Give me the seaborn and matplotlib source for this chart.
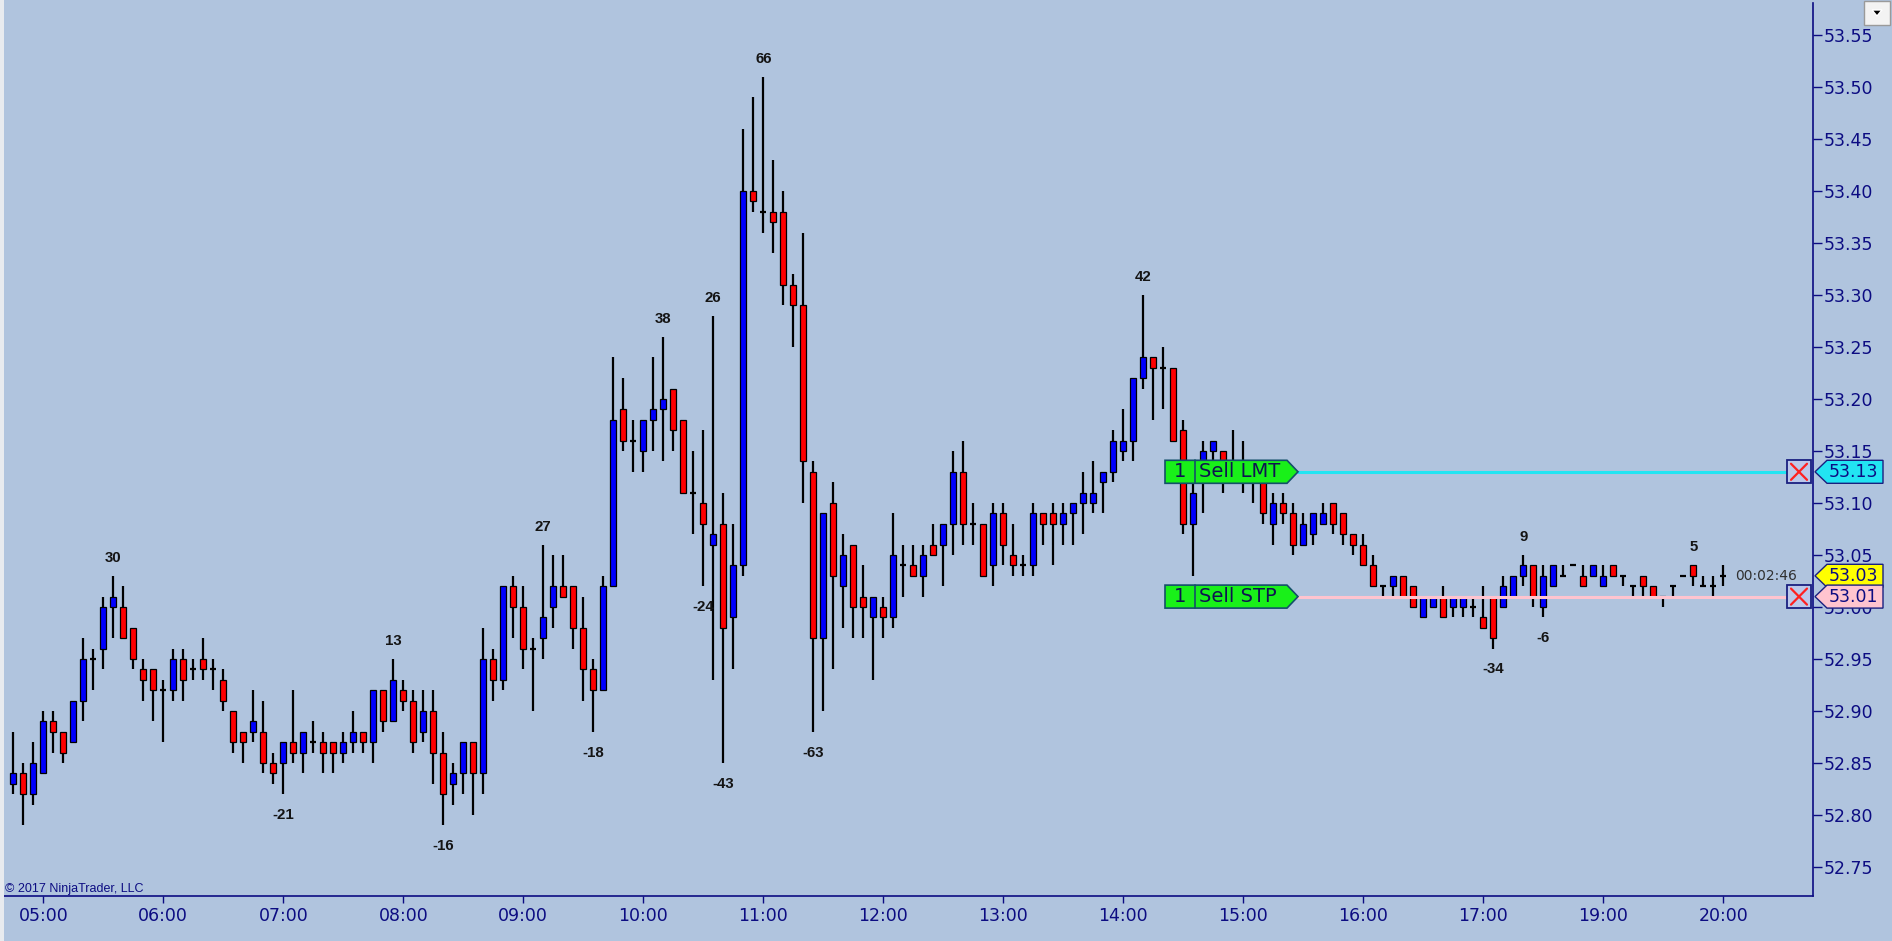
import numpy as np
import pandas as pd
import seaborn as sns
import matplotlib.pyplot as plt
import matplotlib.transforms as mtransforms
from matplotlib.patches import Polygon, Rectangle

# 5 minute bars, 04:45 - 17:00 and 18:05 - 20:00
opens = [52.83, 52.84, 52.82, 52.84, 52.89, 52.88, 52.87, 52.91, 52.95, 52.96,
         53.00, 53.00, 52.98, 52.94, 52.94, 52.92, 52.92, 52.95, 52.94, 52.95,
         52.94, 52.93, 52.90, 52.88, 52.88, 52.88, 52.85, 52.85, 52.87, 52.86,
         52.87, 52.87, 52.87, 52.86, 52.87, 52.88, 52.87, 52.92, 52.89, 52.92,
         52.91, 52.88, 52.90, 52.86, 52.83, 52.84, 52.87, 52.84, 52.95, 52.93,
         53.02, 53.00, 52.96, 52.97, 53.00, 53.02, 53.02, 52.98, 52.94, 52.92,
         53.02, 53.19, 53.16, 53.15, 53.18, 53.19, 53.21, 53.18, 53.11, 53.10,
         53.06, 53.08, 52.99, 53.04, 53.40, 53.38, 53.38, 53.38, 53.31, 53.29,
         53.13, 52.97, 53.10, 53.02, 53.06, 53.01, 52.99, 53.00, 52.99, 53.04,
         53.04, 53.03, 53.06, 53.06, 53.08, 53.13, 53.08, 53.08, 53.04, 53.09,
         53.05, 53.04, 53.04, 53.09, 53.09, 53.08, 53.09, 53.10, 53.10, 53.12,
         53.13, 53.15, 53.16, 53.22, 53.24, 53.23, 53.23, 53.17, 53.08, 53.13,
         53.15, 53.15, 53.13, 53.13, 53.12, 53.13, 53.08, 53.10, 53.09, 53.06,
         53.07, 53.08, 53.10, 53.09, 53.07, 53.06, 53.04, 53.02, 53.02, 53.03,
         53.02, 52.99, 53.00, 53.01, 53.00, 53.00, 53.00, 52.99, 53.01, 53.00,
         53.01, 53.03, 53.04, 53.00, 53.02, 53.03, 53.04, 53.03, 53.03, 53.02,
         53.04, 53.03, 53.02, 53.03, 53.02, 53.01, 53.02, 53.03, 53.04, 53.02,
         53.02, 53.03]
highs = [52.88, 52.85, 52.87, 52.90, 52.90, 52.88, 52.91, 52.97, 52.96, 53.01,
         53.03, 53.02, 52.98, 52.95, 52.94, 52.93, 52.96, 52.96, 52.95, 52.97,
         52.95, 52.94, 52.90, 52.88, 52.92, 52.91, 52.86, 52.87, 52.92, 52.88,
         52.89, 52.88, 52.87, 52.88, 52.90, 52.88, 52.92, 52.92, 52.95, 52.93,
         52.92, 52.92, 52.92, 52.88, 52.85, 52.87, 52.87, 52.98, 52.96, 53.02,
         53.03, 53.02, 52.97, 53.06, 53.05, 53.05, 53.02, 53.01, 52.95, 53.03,
         53.24, 53.22, 53.18, 53.18, 53.24, 53.26, 53.21, 53.18, 53.15, 53.17,
         53.28, 53.11, 53.08, 53.46, 53.49, 53.51, 53.43, 53.40, 53.32, 53.36,
         53.14, 53.09, 53.12, 53.07, 53.06, 53.04, 53.01, 53.01, 53.09, 53.06,
         53.06, 53.06, 53.08, 53.08, 53.15, 53.16, 53.10, 53.08, 53.10, 53.10,
         53.08, 53.05, 53.10, 53.09, 53.10, 53.10, 53.10, 53.13, 53.14, 53.13,
         53.17, 53.19, 53.22, 53.30, 53.24, 53.25, 53.23, 53.18, 53.12, 53.16,
         53.16, 53.15, 53.17, 53.16, 53.13, 53.13, 53.11, 53.11, 53.10, 53.09,
         53.09, 53.10, 53.10, 53.09, 53.07, 53.07, 53.05, 53.02, 53.03, 53.03,
         53.02, 53.01, 53.01, 53.02, 53.01, 53.01, 53.01, 53.02, 53.01, 53.03,
         53.03, 53.05, 53.04, 53.04, 53.04, 53.04, 53.04, 53.04, 53.04, 53.04,
         53.04, 53.03, 53.02, 53.03, 53.02, 53.01, 53.02, 53.03, 53.04, 53.03,
         53.03, 53.04]
lows = [52.82, 52.79, 52.81, 52.84, 52.86, 52.85, 52.87, 52.89, 52.92, 52.94,
        52.97, 52.97, 52.94, 52.91, 52.89, 52.87, 52.91, 52.91, 52.93, 52.93,
        52.92, 52.90, 52.86, 52.85, 52.87, 52.84, 52.83, 52.82, 52.85, 52.84,
        52.86, 52.84, 52.84, 52.85, 52.86, 52.86, 52.85, 52.88, 52.89, 52.90,
        52.86, 52.87, 52.83, 52.79, 52.81, 52.82, 52.80, 52.82, 52.91, 52.92,
        52.97, 52.94, 52.90, 52.95, 52.98, 53.01, 52.96, 52.91, 52.88, 52.92,
        53.02, 53.15, 53.13, 53.13, 53.15, 53.14, 53.15, 53.11, 53.07, 53.02,
        52.93, 52.85, 52.94, 53.03, 53.38, 53.36, 53.34, 53.29, 53.25, 53.10,
        52.88, 52.90, 52.94, 52.98, 52.97, 52.97, 52.93, 52.97, 52.98, 53.01,
        53.03, 53.01, 53.05, 53.02, 53.05, 53.06, 53.06, 53.03, 53.02, 53.04,
        53.03, 53.03, 53.03, 53.06, 53.04, 53.06, 53.06, 53.07, 53.09, 53.09,
        53.12, 53.14, 53.14, 53.21, 53.18, 53.19, 53.16, 53.07, 53.03, 53.09,
        53.12, 53.11, 53.12, 53.11, 53.10, 53.08, 53.06, 53.08, 53.05, 53.06,
        53.06, 53.08, 53.07, 53.06, 53.05, 53.04, 53.02, 53.01, 53.01, 53.01,
        53.00, 52.99, 53.00, 52.99, 52.99, 52.99, 52.99, 52.98, 52.96, 53.00,
        53.01, 53.02, 53.00, 52.99, 53.02, 53.03, 53.04, 53.02, 53.03, 53.02,
        53.03, 53.02, 53.01, 53.01, 53.01, 53.00, 53.01, 53.03, 53.02, 53.02,
        53.01, 53.02]
closes = [52.84, 52.82, 52.85, 52.89, 52.88, 52.86, 52.91, 52.95, 52.95, 53.00,
          53.01, 52.97, 52.95, 52.93, 52.92, 52.92, 52.95, 52.93, 52.94, 52.94,
          52.94, 52.91, 52.87, 52.87, 52.89, 52.85, 52.84, 52.87, 52.86, 52.88,
          52.87, 52.86, 52.86, 52.87, 52.88, 52.87, 52.92, 52.89, 52.93, 52.91,
          52.87, 52.90, 52.86, 52.82, 52.84, 52.87, 52.84, 52.95, 52.93, 53.02,
          53.00, 52.96, 52.96, 52.99, 53.02, 53.01, 52.98, 52.94, 52.92, 53.02,
          53.18, 53.16, 53.16, 53.18, 53.19, 53.20, 53.17, 53.11, 53.11, 53.08,
          53.07, 52.98, 53.04, 53.40, 53.39, 53.38, 53.37, 53.31, 53.29, 53.14,
          52.97, 53.09, 53.03, 53.05, 53.00, 53.00, 53.01, 52.99, 53.05, 53.04,
          53.03, 53.05, 53.05, 53.08, 53.13, 53.08, 53.08, 53.03, 53.09, 53.06,
          53.04, 53.04, 53.09, 53.08, 53.08, 53.09, 53.10, 53.11, 53.11, 53.13,
          53.16, 53.16, 53.22, 53.24, 53.23, 53.23, 53.16, 53.08, 53.11, 53.15,
          53.16, 53.13, 53.13, 53.12, 53.12, 53.09, 53.10, 53.09, 53.06, 53.08,
          53.09, 53.09, 53.08, 53.07, 53.06, 53.04, 53.02, 53.02, 53.03, 53.01,
          53.00, 53.01, 53.01, 52.99, 53.01, 53.01, 53.00, 52.98, 52.97, 53.02,
          53.03, 53.04, 53.01, 53.03, 53.04, 53.03, 53.04, 53.02, 53.04, 53.03,
          53.03, 53.03, 53.02, 53.02, 53.01, 53.01, 53.02, 53.03, 53.03, 53.02,
          53.02, 53.03]

bar_times = (list(pd.date_range('2017-01-01 04:45', '2017-01-01 17:00', freq='5min'))
             + list(pd.date_range('2017-01-01 18:05', '2017-01-01 20:00', freq='5min')))

# swing labels (bar number counted from 1, swing size in ticks)
swing_bars = [11, 28, 39, 44, 54, 59, 66, 70, 71, 72, 76, 81, 114, 149, 152, 154, 169]
swing_values = [30, -21, 13, -16, 27, -18, 38, -24, 26, -43, 66, -63, 42, -34, 9, -6, 5]

order_names = ['Sell LMT', 'Sell STP']
order_prices = [53.13, 53.01]
order_qty = [1, 1]
order_colors = ['#22e4f2', '#ffc4cf']
last_price = 53.03
timer = '00:02:46'

df = pd.DataFrame({'time': bar_times, 'open': opens, 'high': highs,
                   'low': lows, 'close': closes})
df['x'] = np.arange(len(df))

sns.set_theme(style='white')
plt.rcParams['font.family'] = ['DejaVu Sans']

BG = '#b0c4de'
NAVY = '#0c0c82'
W, H = 1892, 941
fig = plt.figure(figsize=(W / 100, H / 100), dpi=100, facecolor=BG)
ax = fig.add_axes([4 / W, 1 - 896 / H, (1813 - 4) / W, (896 - 3) / H], facecolor=BG)

# candles
up = df.close > df.open
dn = df.close < df.open
fl = df.close == df.open
bw = 0.62
ax.vlines(df.x, df.low, df.high, color='black', lw=1.6, zorder=2)
ax.bar(df.x[up], (df.close - df.open)[up], bottom=df.open[up], width=bw,
       color='#0000ff', edgecolor='black', linewidth=0.9, zorder=3)
ax.bar(df.x[dn], (df.open - df.close)[dn], bottom=df.close[dn], width=bw,
       color='#ff0000', edgecolor='black', linewidth=0.9, zorder=3)
ax.hlines(df.close[fl], df.x[fl] - bw / 2, df.x[fl] + bw / 2, color='black', lw=1.6, zorder=3)

# swing labels
for b, v in zip(swing_bars, swing_values):
    i = b - 1
    if v > 0:
        ax.annotate(str(v), (i, df.high[i]), xytext=(0, 13), textcoords='offset points',
                    ha='center', va='center', fontsize=10.8, fontweight='bold',
                    family='Liberation Sans', color='#141414', zorder=5)
    else:
        ax.annotate(str(v), (i, df.low[i]), xytext=(0, -15), textcoords='offset points',
                    ha='center', va='center', fontsize=10.8, fontweight='bold',
                    family='Liberation Sans', color='#141414', zorder=5)

ax.set_xlim(-(13.3 - 4) / 10, (1813 - 13.3) / 10)
ax.set_ylim(53.55 - (896 - 35) / 1040, 53.55 + (35 - 3) / 1040)

hours = [i for i, t in enumerate(bar_times) if t.minute == 0]
ax.set_xticks(hours)
ax.set_xticklabels([bar_times[i].strftime('%H:%M') for i in hours])
ax.yaxis.tick_right()
ax.set_yticks(np.arange(52.75, 53.551, 0.05))
ax.set_yticklabels(['%.2f' % p for p in np.arange(52.75, 53.551, 0.05)])
ax.tick_params(axis='x', direction='out', length=5, width=1, color=NAVY,
               labelcolor=NAVY, labelsize=12.5, pad=3, bottom=True)
ax.tick_params(axis='y', direction='out', length=6.5, width=1, color=NAVY,
               labelcolor=NAVY, labelsize=12.5, pad=1.5, right=True, left=False)
ax.grid(False)
for s in ['top', 'left']:
    ax.spines[s].set_visible(False)
for s in ['bottom', 'right']:
    ax.spines[s].set_color(NAVY)
    ax.spines[s].set_linewidth(1.2)

# overlay in pixel coordinates for the chart trader items
ov = fig.add_axes([0, 0, 1, 1], facecolor='none')
ov.set_xlim(0, W)
ov.set_ylim(H, 0)
ov.axis('off')
tr = mtransforms.blended_transform_factory(ov.transData, ax.transData)
hh = 11.5 / 1040

for name, p, c, q in zip(order_names, order_prices, order_colors, order_qty):
    ov.plot([1298, 1787], [p, p], color=c, lw=2.2, transform=tr, zorder=4, clip_on=False)
    ov.add_patch(Polygon([(1165, p + hh), (1287, p + hh), (1298, p), (1287, p - hh), (1165, p - hh)],
                         closed=True, facecolor='#19f019', edgecolor='#14506a', lw=1.2,
                         transform=tr, zorder=6, clip_on=False))
    ov.plot([1195, 1195], [p - hh, p + hh], color='#14506a', lw=1.2, transform=tr, zorder=7)
    ov.text(1180, p, str(q), ha='center', va='center', fontsize=14, color='#0e1450',
            transform=tr, zorder=8)
    ov.text(1199, p, name, ha='left', va='center', fontsize=14, color='#0e1450',
            transform=tr, zorder=8)
    # close box
    ov.add_patch(Rectangle((1787, p - hh), 24, 2 * hh, facecolor='#bcc8ea', edgecolor='#1a2080',
                           lw=1.3, transform=tr, zorder=6, clip_on=False))
    ov.plot([1791, 1807], [p + hh * 0.7, p - hh * 0.7], color='#ff2020', lw=1.6, transform=tr, zorder=7)
    ov.plot([1791, 1807], [p - hh * 0.7, p + hh * 0.7], color='#ff2020', lw=1.6, transform=tr, zorder=7)

# price tags on the axis
tags = [(order_prices[0], order_colors[0]), (last_price, '#ffff00'), (order_prices[1], '#ffc4cf')]
for p, c in tags:
    ov.add_patch(Polygon([(1815, p), (1827, p + hh), (1883, p + hh), (1883, p - hh), (1827, p - hh)],
                         closed=True, facecolor=c, edgecolor='#1a2080', lw=1.0,
                         transform=tr, zorder=6, clip_on=False))
    ov.text(1853, p, '%.2f' % p, ha='center', va='center', fontsize=12.5, color=NAVY,
            transform=tr, zorder=8)

ov.text(1735, last_price, timer, ha='left', va='center', fontsize=10, color='#303030',
        transform=tr, zorder=5)

# window chrome
ov.add_patch(Rectangle((0, 0), 4, H, facecolor='#e8ebef', edgecolor='none', zorder=1))
ov.add_patch(Rectangle((1864, 1), 26, 24, facecolor='#f3f3f3', edgecolor='#9a9a9a', lw=1, zorder=6))
ov.add_patch(Polygon([(1872, 10), (1882, 10), (1877, 16)], closed=True, facecolor='black', zorder=7))
ov.text(5, 889, '\u00a9 2017 NinjaTrader, LLC', ha='left', va='center', fontsize=9,
        family='Liberation Sans', color=NAVY, zorder=5)

fig.savefig('out.png', dpi=100, facecolor=BG)
